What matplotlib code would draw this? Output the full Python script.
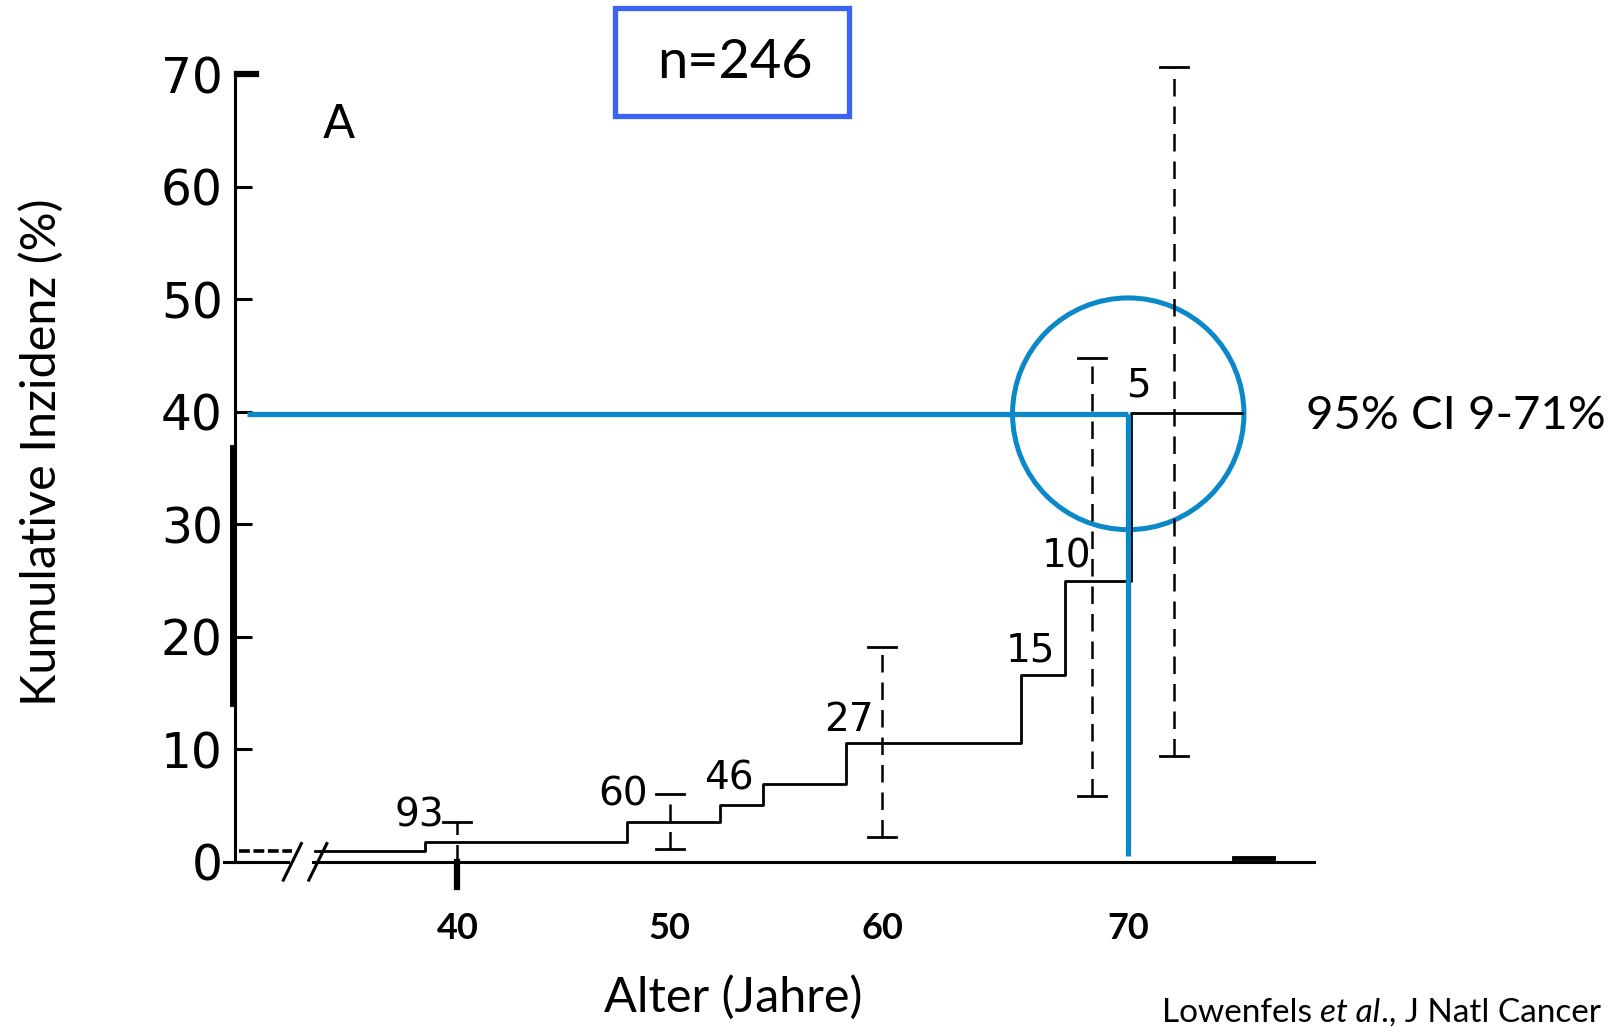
import numpy as np
import matplotlib.pyplot as plt
from matplotlib.patches import Ellipse, Rectangle
from matplotlib.offsetbox import TextArea, HPacker, AnnotationBbox

# Stufenkurve (kumulative Inzidenz, %) nach Alter
step_age = [33.3, 38.45, 47.99, 52.35, 54.38, 58.31, 66.54, 68.62, 71.72, 76.95]
step_inc = [0.91, 1.74, 3.56, 5.03, 6.86, 10.5, 16.6, 24.9, 39.9, 39.9]
pre_break_age = [29.69, 32.2]

# 95%-Konfidenzintervalle
ci_age = [40, 50, 60, 69.9, 73.75]
ci_low = [0.0, 1.1, 2.2, 5.8, 9.4]
ci_high = [3.5, 6.0, 19.1, 44.8, 70.6]

# Patienten unter Risiko
risk_n = ['93', '60', '46', '27', '15', '10', '5']
risk_age = [38.2, 47.8, 52.8, 58.45, 67.0, 68.7, 72.06]
risk_y = [4.1, 6.0, 7.4, 12.6, 18.8, 27.1, 42.3]

# Markierung 40% bei 70 Jahren
mark_age = 71.6
mark_inc = 39.8

yticks = [0, 10, 20, 30, 40, 50, 60, 70]
scan_xticks = [40, 50, 60]
xtick_pos = [40, 50, 60, mark_age]
xtick_labels = ['40', '50', '60', '70']

# Achsenbruch
brk_lo, brk_hi = 32.0, 33.2

blue = '#0a88c8'
black = 'black'

fig = plt.figure(figsize=(16.12, 10.27), dpi=100)
ax = fig.add_axes([0.146, 0.1611, 0.669, 0.7668])
ax.set_xlim(29.54, 80.34)
ax.set_ylim(0, 70)

# Achsen im Stil des Scans
for s in ['top', 'right', 'bottom']:
    ax.spines[s].set_visible(False)
ax.spines['left'].set_linewidth(2.2)
ax.plot([29.0, brk_lo], [0, 0], color=black, lw=2.2, clip_on=False)
ax.plot([brk_hi, 80.34], [0, 0], color=black, lw=2.2, clip_on=False)
ax.plot([29.45, 29.45], [14.1, 36.8], color=black, lw=5, clip_on=False)
ax.plot([76.6, 78.4], [0.3, 0.3], color=black, lw=3.5)
# dicke Striche aus dem Scan (70 oben, 40 unten)
ax.plot([29.6, 30.5], [70, 70], color=black, lw=4.5, clip_on=False)
ax.plot([40, 40], [0, -2.3], color=black, lw=4.5, clip_on=False)

# Bruchstriche
for bx in [brk_lo, brk_hi]:
    ax.plot([bx - 0.2, bx + 0.65], [-1.65, 1.6], color=black, lw=2.2, clip_on=False)

# Kurve
ax.plot(pre_break_age, [step_inc[0]] * 2, color=black, lw=2.6, ls=(0, (3, 1)))
ax.step(step_age, step_inc, where='post', color=black, lw=2.0)

# Konfidenzintervalle
cap = 0.66
for a, lo, hi in zip(ci_age, ci_low, ci_high):
    ax.plot([a, a], [lo, hi], color=black, lw=1.8, ls=(0, (7, 4)), clip_on=False)
    ax.plot([a - cap, a + cap], [hi, hi], color=black, lw=2.0, clip_on=False)
    ax.plot([a - cap, a + cap], [lo, lo], color=black, lw=2.0, clip_on=False)

for t, a, y in zip(risk_n, risk_age, risk_y):
    ax.text(a, y, t, ha='center', va='center', fontsize=28, family='DejaVu Sans')

ax.text(34.4, 65.4, 'A', ha='center', va='center', fontsize=34, family='DejaVu Sans')

# blaue Markierung
ax.plot([30.07, mark_age], [mark_inc, mark_inc], color=blue, lw=3.8, solid_capstyle='butt')
ax.plot([mark_age, mark_age], [mark_inc, 0.5], color=blue, lw=3.8, solid_capstyle='butt')
ax.add_patch(Ellipse((mark_age, mark_inc), 10.9, 20.6, fill=False, ec=blue, lw=3.6))

# Ticks
ax.set_yticks(yticks)
ax.set_yticklabels([str(v) for v in yticks], family='DejaVu Sans', fontsize=35)
ax.tick_params(axis='y', direction='in', length=12, width=2.2, pad=9)

ax.set_xticks(xtick_pos)
ax.set_xticklabels(xtick_labels, family='Lato', fontweight='bold', fontsize=26)
ax.tick_params(axis='x', which='major', length=0, pad=36)
ax.set_xticks(scan_xticks, minor=True)
ax.tick_params(axis='x', which='minor', direction='out', length=18, width=2.2)

# Texte
fig.text(41 / 1612, 1 - 452 / 1027, 'Kumulative Inzidenz (%)', rotation=90,
         ha='center', va='center', family='Lato', fontsize=35)
fig.text(733 / 1612, 1 - 997 / 1027, 'Alter (Jahre)', ha='center', va='center',
         family='Lato', fontsize=35)
fig.text(1306 / 1612, 1 - 416 / 1027, '95% CI 9-71%', ha='left', va='center',
         family='Lato', fontsize=34)

fig.add_artist(Rectangle((615 / 1612, 1 - 116 / 1027), 234 / 1612, 108 / 1027,
                         transform=fig.transFigure, fill=False, ec='#3b64f6', lw=3.8))
fig.text(735 / 1612, 1 - 63 / 1027, 'n=246', ha='center', va='center',
         family='Lato', fontsize=39)

parts = [TextArea('Lowenfels ', textprops=dict(family='Lato', fontsize=24)),
         TextArea('et al', textprops=dict(family='Lato', fontsize=24, style='italic')),
         TextArea('., J Natl Cancer', textprops=dict(family='Lato', fontsize=24))]
box = HPacker(children=parts, sep=0, pad=0, align='baseline')
ab = AnnotationBbox(box, (1162 / 1612, 1 - 1013 / 1027), xycoords='figure fraction',
                    box_alignment=(0, 0.5), frameon=False, pad=0)
fig.add_artist(ab)

plt.savefig('out.png', dpi=100)
